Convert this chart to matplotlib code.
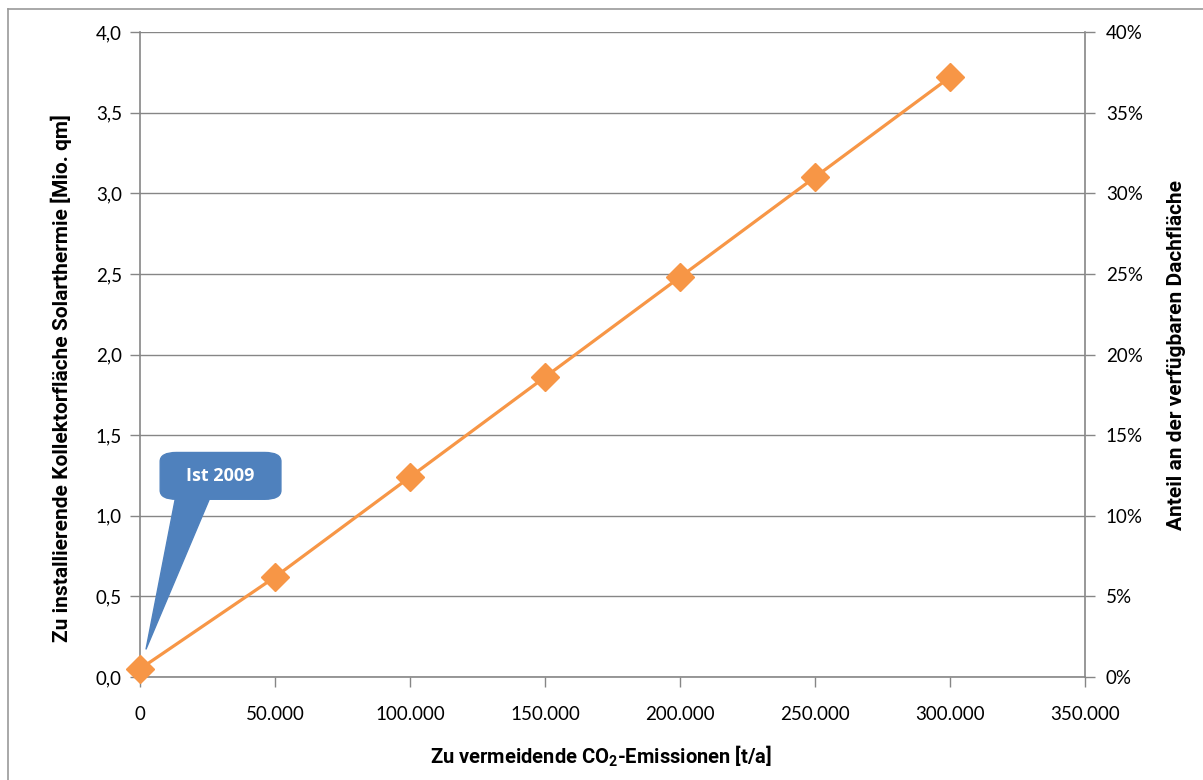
import matplotlib.pyplot as plt
from matplotlib.ticker import FuncFormatter, MultipleLocator
from matplotlib.lines import Line2D

# CO2 savings target vs. required collector area
co2 = [0, 50000, 100000, 150000, 200000, 250000, 300000]
area = [0.05, 0.62, 1.24, 1.86, 2.48, 3.10, 3.72]

x_ticks = [0, 50000, 100000, 150000, 200000, 250000, 300000, 350000]
callout_text = "Ist 2009"

grey = "#868686"
orange = "#F79646"
blue = "#4F81BD"
tick_font = "Lato"
label_font = ["Roboto", "DejaVu Sans"]

plt.rcParams["mathtext.fontset"] = "custom"
plt.rcParams["mathtext.rm"] = "Roboto:bold"
plt.rcParams["mathtext.bf"] = "Roboto:bold"

fig = plt.figure(figsize=(12.03, 7.80), dpi=100)
ax = fig.add_axes([140 / 1203, 103 / 780, 945 / 1203, 645 / 780])

# outer chart frame (top and left edges visible)
fig.add_artist(Line2D([8 / 1203, 1.0], [1 - 9 / 780] * 2, color="#9a9a9a", lw=1.2))
fig.add_artist(Line2D([8 / 1203] * 2, [0.0, 1 - 9 / 780], color="#9a9a9a", lw=1.2))

ax.plot(co2, area, color=orange, lw=2.3, marker="D", markersize=14,
        markerfacecolor=orange, markeredgecolor=orange, zorder=4, clip_on=False)

ax.set_xlim(0, 350000)
ax.set_ylim(0, 4.0)
ax.set_xticks(x_ticks)
ax.yaxis.set_major_locator(MultipleLocator(0.5))
ax.xaxis.set_major_formatter(FuncFormatter(lambda v, p: f"{int(v):,}".replace(",", ".")))
ax.yaxis.set_major_formatter(FuncFormatter(lambda v, p: f"{v:.1f}".replace(".", ",")))
ax.grid(axis="y", color=grey, lw=1.0)
ax.set_axisbelow(True)

for side in ("top", "right"):
    ax.spines[side].set_visible(False)
for side in ("left", "bottom"):
    ax.spines[side].set_color(grey)
    ax.spines[side].set_linewidth(1.2)
ax.tick_params(axis="both", direction="out", length=7, width=1.0, color=grey,
               labelsize=13.5, pad=6)
ax.tick_params(axis="x", pad=14)
for lbl in ax.get_xticklabels() + ax.get_yticklabels():
    lbl.set_fontfamily(tick_font)

ax.set_xlabel("Zu vermeidende CO$_\\mathrm{2}$-Emissionen [t/a]", fontsize=14.5, fontweight="bold",
              family=label_font, labelpad=15, x=0.488)
ax.set_ylabel("Zu installierende Kollektorfläche Solarthermie [Mio. qm]", fontsize=15,
              fontweight="bold", family=label_font, labelpad=17, y=0.464)

# right axis: share of the available roof area
ax2 = ax.twinx()
ax2.set_ylim(0, 0.40)
ax2.yaxis.set_major_locator(MultipleLocator(0.05))
ax2.yaxis.set_major_formatter(FuncFormatter(lambda v, p: f"{v * 100:.0f}%"))
for side in ("top", "left", "bottom"):
    ax2.spines[side].set_visible(False)
ax2.spines["right"].set_color(grey)
ax2.spines["right"].set_linewidth(1.2)
ax2.tick_params(axis="y", direction="out", length=7, width=1.0, color=grey,
                labelsize=13.5, pad=8)
for lbl in ax2.get_yticklabels():
    lbl.set_fontfamily(tick_font)
ax2.set_ylabel("Anteil an der verfügbaren Dachfläche", fontsize=15, fontweight="bold",
               family=label_font, labelpad=17)

# callout for the 2009 baseline: pointer wedge plus rounded label box
ax.annotate("", xy=(co2[0], area[0]), xytext=(39, 128), textcoords="offset points",
            fontsize=13, zorder=5,
            arrowprops=dict(arrowstyle="wedge,tail_width=1.9,shrink_factor=0.5",
                            fc=blue, ec=blue, shrinkB=15, shrinkA=0))
ax.annotate(callout_text, xy=(co2[0], area[0]), xytext=(58, 139), textcoords="offset points",
            ha="center", va="center", color="white", fontsize=13, fontweight="bold",
            family=["Open Sans", "DejaVu Sans"], zorder=6,
            bbox=dict(boxstyle="round,pad=1.45,rounding_size=0.9", fc=blue, ec=blue,
                      mutation_aspect=0.55))

fig.savefig("out.png", dpi=100)
